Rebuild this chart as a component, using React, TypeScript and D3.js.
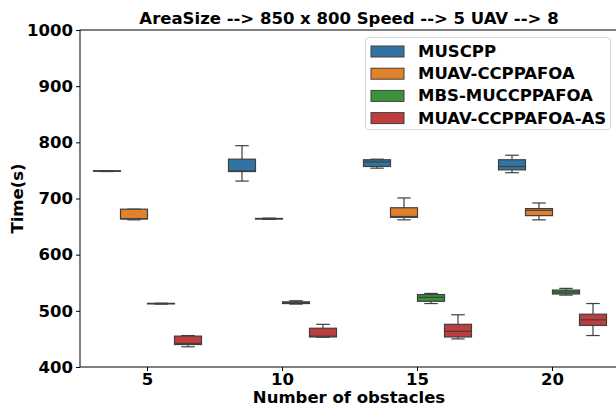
import { useEffect, useRef } from "react";
import * as d3 from "d3";

const categories = ["5", "10", "15", "20"];
const series = ["MUSCPP", "MUAV-CCPPAFOA", "MBS-MUCCPPAFOA", "MUAV-CCPPAFOA-AS"];
const colors = ["#3274a1", "#e1812c", "#3a923a", "#c03d3e"];
const yTicks = [400, 500, 600, 700, 800, 900, 1000];

// [whiskerLow, q1, median, q3, whiskerHigh] per category
const muscpp = [
  [748, 748.5, 749, 749.3, 749.5],
  [731, 748, 749, 770, 794],
  [754, 757, 765, 769, 770],
  [746, 751, 757, 769, 777],
];
const muavCcppafoa = [
  [662, 663.5, 664, 681, 681],
  [663, 663.5, 664, 664.5, 665],
  [662, 666.5, 668, 683.5, 701],
  [662, 669.5, 679, 682, 692],
];
const mbsMuccppafoa = [
  [512, 512.5, 513, 513.3, 513.5],
  [512, 513, 514.5, 516, 518],
  [513, 517, 524, 529, 531],
  [528, 530, 533.5, 537, 540],
];
const muavCcppafoaAs = [
  [436, 440, 442, 455, 456],
  [453, 453.5, 455, 469, 476],
  [450, 453.5, 463.5, 476, 493],
  [456, 474, 484, 494, 513],
];
const seriesData = [muscpp, muavCcppafoa, mbsMuccppafoa, muavCcppafoaAs];

const W = 616;
const H = 407;
const margin = { top: 30, right: -4, bottom: 40, left: 80 };
const font = "'DejaVu Sans', sans-serif";
const edge = "#3f3f3f";
const fs = 16.5;

const App = () => {
  const ref = useRef<SVGSVGElement>(null);

  useEffect(() => {
    const svg = d3.select(ref.current);
    svg.selectAll("*").remove();

    const x0 = margin.left;
    const x1 = W - margin.right;
    const y0 = margin.top;
    const y1 = H - margin.bottom;

    const xScale = d3.scaleBand().domain(categories).range([x0, x1]).padding(0);
    const hueScale = d3
      .scaleBand()
      .domain(series)
      .range([xScale.bandwidth() * 0.1, xScale.bandwidth() * 0.9]);
    const yScale = d3.scaleLinear().domain([400, 1000]).range([y1, y0]);

    const g = svg.append("g");
    const bw = hueScale.bandwidth();

    series.forEach((s, si) => {
      seriesData[si].forEach((d, ci) => {
        const left = (xScale(categories[ci]) as number) + (hueScale(s) as number);
        const cx = left + bw / 2;
        const [lo, q1, med, q3, hi] = d;
        const box = g.append("g").attr("stroke", edge).attr("stroke-width", 1.2);
        box
          .append("line")
          .attr("x1", cx)
          .attr("x2", cx)
          .attr("y1", yScale(q3))
          .attr("y2", yScale(hi));
        box
          .append("line")
          .attr("x1", cx)
          .attr("x2", cx)
          .attr("y1", yScale(q1))
          .attr("y2", yScale(lo));
        [lo, hi].forEach((v) =>
          box
            .append("line")
            .attr("x1", cx - bw / 4)
            .attr("x2", cx + bw / 4)
            .attr("y1", yScale(v))
            .attr("y2", yScale(v))
        );
        box
          .append("rect")
          .attr("x", left)
          .attr("y", yScale(q3))
          .attr("width", bw)
          .attr("height", Math.max(0.5, yScale(q1) - yScale(q3)))
          .attr("fill", colors[si]);
        box
          .append("line")
          .attr("x1", left)
          .attr("x2", left + bw)
          .attr("y1", yScale(med))
          .attr("y2", yScale(med));
      });
    });

    // frame
    g.append("rect")
      .attr("x", x0)
      .attr("y", y0)
      .attr("width", x1 - x0)
      .attr("height", y1 - y0)
      .attr("fill", "none")
      .attr("stroke", "#000")
      .attr("stroke-width", 1);

    const yAxis = svg
      .append("g")
      .attr("transform", `translate(${x0},0)`)
      .call(
        d3
          .axisLeft(yScale)
          .tickValues(yTicks)
          .tickFormat(d3.format("d"))
          .tickSize(4)
          .tickPadding(3)
      );
    const xAxis = svg
      .append("g")
      .attr("transform", `translate(0,${y1})`)
      .call(d3.axisBottom(xScale).tickSize(4).tickPadding(2));
    [yAxis, xAxis].forEach((a) => {
      a.select(".domain").remove();
      a.selectAll("text")
        .attr("font-family", font)
        .attr("font-weight", "bold")
        .attr("font-size", fs)
        .attr("fill", "#000");
    });

    svg
      .append("text")
      .attr("x", 349)
      .attr("y", 24)
      .attr("text-anchor", "middle")
      .attr("font-family", font)
      .attr("font-weight", "bold")
      .attr("font-size", fs)
      .text("AreaSize --> 850 x 800 Speed --> 5 UAV --> 8");

    svg
      .append("text")
      .attr("x", 349)
      .attr("y", 403)
      .attr("text-anchor", "middle")
      .attr("font-family", font)
      .attr("font-weight", "bold")
      .attr("font-size", fs)
      .text("Number of obstacles");

    svg
      .append("text")
      .attr("transform", `translate(23,${(y0 + y1) / 2}) rotate(-90)`)
      .attr("text-anchor", "middle")
      .attr("font-family", font)
      .attr("font-weight", "bold")
      .attr("font-size", fs)
      .text("Time(s)");

    // legend
    const lg = svg.append("g");
    lg.append("rect")
      .attr("x", 365.5)
      .attr("y", 37.5)
      .attr("width", 245)
      .attr("height", 92)
      .attr("rx", 3)
      .attr("fill", "#fff")
      .attr("fill-opacity", 0.8)
      .attr("stroke", "#d9d9d9");
    series.forEach((s, i) => {
      const cy = 51 + i * 22.2;
      lg.append("rect")
        .attr("x", 371)
        .attr("y", cy - 5)
        .attr("width", 33)
        .attr("height", 11)
        .attr("fill", colors[i])
        .attr("stroke", edge)
        .attr("stroke-width", 1);
      lg.append("text")
        .attr("x", 418)
        .attr("y", cy + 6)
        .attr("font-family", font)
        .attr("font-weight", "bold")
        .attr("font-size", fs)
        .text(s);
    });
  }, []);

  return (
    <svg
      ref={ref}
      width={W}
      height={H}
      style={{ position: "absolute", left: 0, top: 0, background: "#fff" }}
    />
  );
};

export default App;
